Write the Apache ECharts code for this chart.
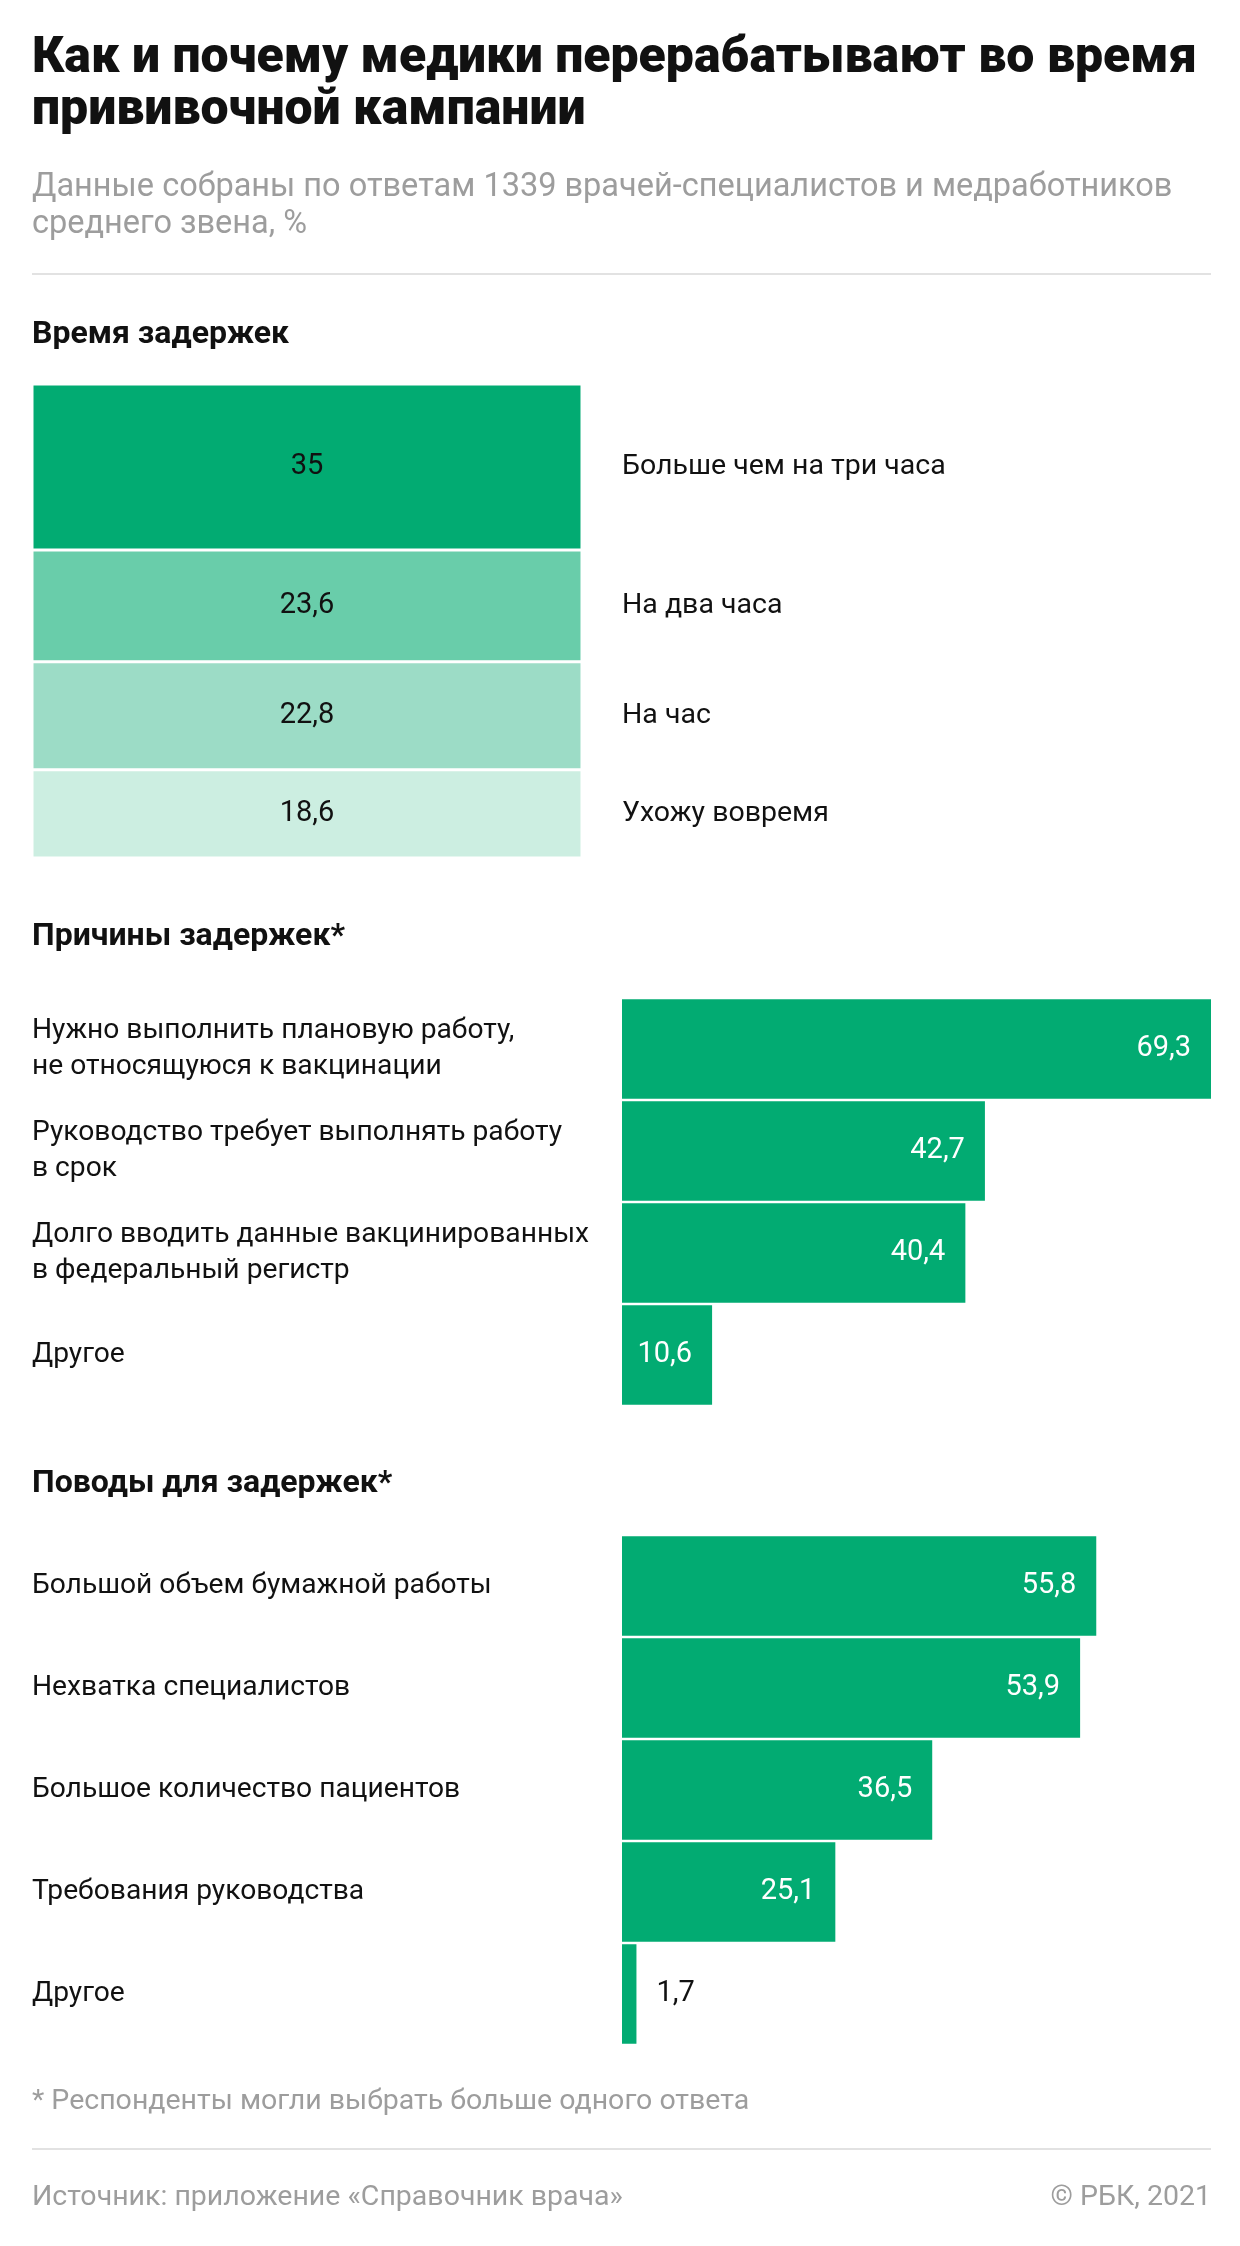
<!DOCTYPE html>
<html>
<head>
    <meta charset="UTF-8">
    <title>Как и почему медики перерабатывают</title>
    <style type="text/css">
        html, body { margin: 0; padding: 0; background: #fff; }
        #mychart { width: 1240px; height: 2246px; }
    </style>
</head>
<body>
<div id="mychart"></div>
<script src="https://cdn.jsdelivr.net/npm/echarts@6/dist/echarts.min.js"></script>
<script>
    // Время задержек (стопка, сумма 100)
    var delayNames = ['Больше чем на три часа', 'На два часа', 'На час', 'Ухожу вовремя'];
    var delayValues = [35, 23.6, 22.8, 18.6];
    var delayColors = ['#02ab72', '#69cdaa', '#9cdcc6', '#cceee1'];

    // Причины задержек
    var reasonNames = [
        'Нужно выполнить плановую работу,\nне относящуюся к вакцинации',
        'Руководство требует выполнять работу\nв срок',
        'Долго вводить данные вакцинированных\nв федеральный регистр',
        'Другое'
    ];
    var reasonValues = [69.3, 42.7, 40.4, 10.6];

    // Поводы для задержек
    var causeNames = [
        'Большой объем бумажной работы',
        'Нехватка специалистов',
        'Большое количество пациентов',
        'Требования руководства',
        'Другое'
    ];
    var causeValues = [55.8, 53.9, 36.5, 25.1, 1.7];

    var green = '#02ab72';
    var grey = '#9d9d9d';
    var dark = '#111';
    var font = 'Roboto';
    // общий масштаб для двух нижних блоков
    var barMax = Math.max.apply(null, reasonValues.concat(causeValues));

    function fmt(v) {
        return String(v).replace('.', ',');
    }

    function hbarData(values) {
        return values.map(function (v) {
            if (v < 5) {
                return {value: v, label: {position: 'right', color: dark}};
            }
            return v;
        });
    }

    var series = [];
    delayNames.forEach(function (name, i) {
        // блок слева
        series.push({
            name: name,
            type: 'bar',
            stack: 'block',
            xAxisIndex: 0,
            yAxisIndex: 0,
            barWidth: '100%',
            data: [delayValues[i]],
            itemStyle: {color: delayColors[i], borderColor: '#fff', borderWidth: 1.5},
            label: {
                show: true,
                position: 'inside',
                color: dark,
                fontFamily: font,
                fontSize: 29,
                formatter: function (p) { return fmt(p.value); }
            },
            silent: true
        });
        // подписи справа (прозрачная стопка в соседней сетке)
        series.push({
            name: name + ' ',
            type: 'bar',
            stack: 'names',
            xAxisIndex: 1,
            yAxisIndex: 1,
            barWidth: '100%',
            data: [delayValues[i]],
            itemStyle: {color: 'rgba(0,0,0,0)'},
            label: {
                show: true,
                position: 'insideLeft',
                distance: 0,
                color: dark,
                fontFamily: font,
                fontSize: 28.5,
                formatter: name
            },
            silent: true
        });
    });

    var hLabel = {
        show: true,
        position: 'insideRight',
        distance: 20,
        color: '#fff',
        fontFamily: font,
        fontSize: 29,
        formatter: function (p) { return fmt(p.value); }
    };

    series.push({
        type: 'bar',
        xAxisIndex: 2,
        yAxisIndex: 2,
        barCategoryGap: '2.5%',
        data: hbarData(reasonValues),
        itemStyle: {color: green},
        label: hLabel,
        silent: true
    });
    series.push({
        type: 'bar',
        xAxisIndex: 3,
        yAxisIndex: 3,
        barCategoryGap: '2.5%',
        data: hbarData(causeValues),
        itemStyle: {color: green},
        label: hLabel,
        silent: true
    });

    var catLabel = {
        show: true,
        align: 'left',
        margin: 590,
        color: dark,
        fontFamily: font,
        fontSize: 28.2,
        lineHeight: 36
    };

    var headStyle = {fontFamily: font, fontWeight: 'bold', fontSize: 32, lineHeight: 36, color: dark};
    var noteStyle = {fontFamily: font, fontWeight: 'normal', fontSize: 28.5, lineHeight: 34, color: grey};

    var option = {
        backgroundColor: '#fff',
        animation: false,
        title: [
            {
                text: 'Как и почему медики перерабатывают во время\nпрививочной кампании',
                left: 32, top: 33, padding: 0,
                textStyle: {fontFamily: font, fontWeight: 900, fontSize: 50, lineHeight: 52, color: dark}
            },
            {
                text: 'Данные собраны по ответам 1339 врачей-специалистов и медработников\nсреднего звена, %',
                left: 32, top: 169, padding: 0,
                textStyle: {fontFamily: font, fontWeight: 'normal', fontSize: 32.5, lineHeight: 37, color: grey}
            },
            {text: 'Время задержек', left: 32, top: 317, padding: 0, textStyle: headStyle},
            {text: 'Причины задержек*', left: 32, top: 919, padding: 0, textStyle: headStyle},
            {text: 'Поводы для задержек*', left: 32, top: 1466, padding: 0, textStyle: headStyle},
            {text: '* Респонденты могли выбрать больше одного ответа', left: 32, top: 2085, padding: 0, textStyle: noteStyle},
            {text: 'Источник: приложение «Справочник врача»', left: 32, top: 2181, padding: 0, textStyle: noteStyle},
            {text: '© РБК, 2021', right: 29, top: 2181, padding: 0, textStyle: noteStyle}
        ],
        graphic: [
            {type: 'rect', shape: {x: 32, y: 273, width: 1179, height: 2}, style: {fill: '#e2e2e2'}, silent: true},
            {type: 'rect', shape: {x: 32, y: 2148, width: 1179, height: 2}, style: {fill: '#e2e2e2'}, silent: true}
        ],
        grid: [
            {left: 32, width: 550, top: 384, height: 474},
            {left: 622, width: 589, top: 384, height: 474},
            {left: 622, width: 589, top: 998, height: 408},
            {left: 622, width: 589, top: 1535, height: 510}
        ],
        xAxis: [
            {type: 'category', gridIndex: 0, data: ['block'], show: false},
            {type: 'category', gridIndex: 1, data: ['names'], show: false},
            {type: 'value', gridIndex: 2, min: 0, max: barMax, show: false},
            {type: 'value', gridIndex: 3, min: 0, max: barMax, show: false}
        ],
        yAxis: [
            {type: 'value', gridIndex: 0, min: 0, max: 100, inverse: true, show: false},
            {type: 'value', gridIndex: 1, min: 0, max: 100, inverse: true, show: false},
            {
                type: 'category', gridIndex: 2, data: reasonNames, inverse: true,
                axisLine: {show: false}, axisTick: {show: false}, splitLine: {show: false},
                axisLabel: catLabel
            },
            {
                type: 'category', gridIndex: 3, data: causeNames, inverse: true,
                axisLine: {show: false}, axisTick: {show: false}, splitLine: {show: false},
                axisLabel: catLabel
            }
        ],
        series: series
    };

    var mychart = echarts.init(document.getElementById('mychart'));
    mychart.setOption(option);
</script>
</body>
</html>
